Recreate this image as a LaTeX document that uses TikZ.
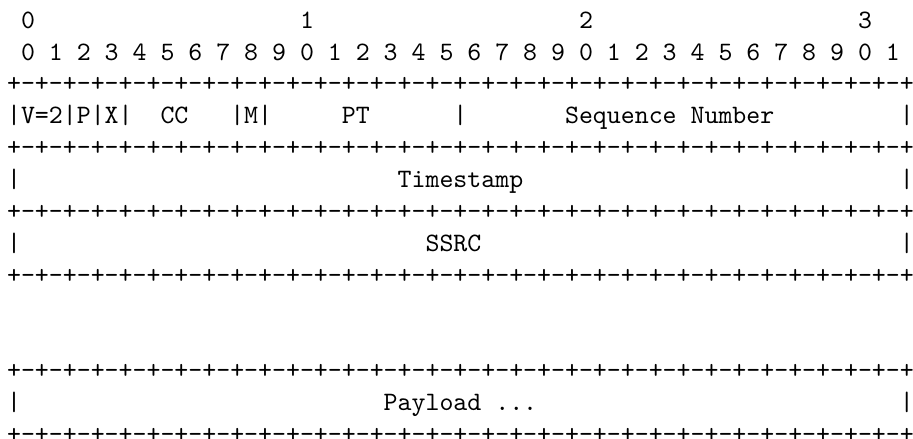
\documentclass[tikz,border=0pt]{standalone}
\newcommand\bitline{+-+-+-+-+-+-+-+-+-+-+-+-+-+-+-+-+-+-+-+-+-+-+-+-+-+-+-+-+-+-+-+-+}
\begin{document}
\begin{tikzpicture}[x=5.25pt,y=-12pt,
  txt/.style={anchor=base west,inner sep=0pt,outer sep=0pt,font=\ttfamily}]
\useasboundingbox (-2.67pt,10.6pt) rectangle (340.93pt,-154.6pt);
% header
\node[txt] (h0) at (1,0) {0};
\node[txt] (h1) at (21,0) {1};
\node[txt] (h2) at (41,0) {2};
\node[txt] (h3) at (61,0) {3};
\node[txt] (bits) at (1,1) {0 1 2 3 4 5 6 7 8 9 0 1 2 3 4 5 6 7 8 9 0 1 2 3 4 5 6 7 8 9 0 1};
% separators
\node[txt] (s1) at (0,2) {\bitline};
\node[txt] (s2) at (0,4) {\bitline};
\node[txt] (s3) at (0,6) {\bitline};
\node[txt] (s4) at (0,8) {\bitline};
\node[txt] (s5) at (0,11) {\bitline};
\node[txt] (s6) at (0,13) {\bitline};
% first word
\node[txt] (vpx) at (0,3) {|V=2|P|X|};
\node[txt] (cc) at (11,3) {CC};
\node[txt] (m) at (16,3) {|M|};
\node[txt] (pt) at (24,3) {PT};
\node[txt] (b32) at (32,3) {|};
\node[txt] (seq) at (40,3) {Sequence Number};
\node[txt] (e3) at (64,3) {|};
% timestamp
\node[txt] (l5) at (0,5) {|};
\node[txt] (ts) at (28,5) {Timestamp};
\node[txt] (r5) at (64,5) {|};
% ssrc
\node[txt] (l7) at (0,7) {|};
\node[txt] (ssrc) at (30,7) {SSRC};
\node[txt] (r7) at (64,7) {|};
% payload
\node[txt] (l12) at (0,12) {|};
\node[txt] (pl) at (27,12) {Payload ...};
\node[txt] (r12) at (64,12) {|};
\end{tikzpicture}
\end{document}
